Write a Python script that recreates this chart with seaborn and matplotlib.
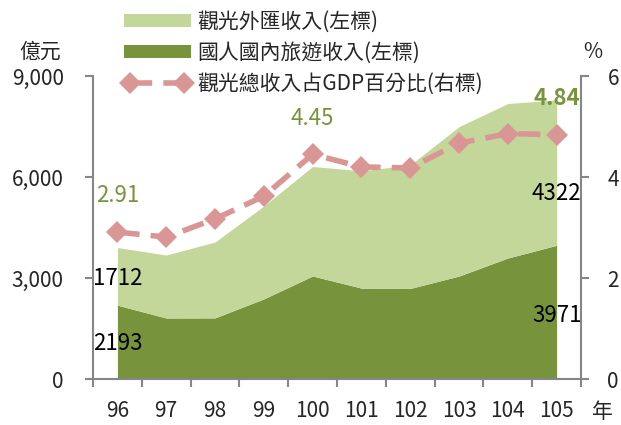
import numpy as np
import pandas as pd
import matplotlib
matplotlib.use('Agg')
import matplotlib.pyplot as plt
from matplotlib.patches import Patch
from matplotlib.lines import Line2D
from matplotlib.ticker import FuncFormatter
import seaborn as sns

# Data (億元 / %)
years = ['96', '97', '98', '99', '100', '101', '102', '103', '104', '105']
domestic = [2193, 1812, 1816, 2380, 3060, 2700, 2690, 3059, 3594, 3971]
foreign = [1712, 1871, 2253, 2758, 3254, 3485, 3668, 4438, 4589, 4322]
gdp_pct = [2.91, 2.81, 3.17, 3.62, 4.45, 4.20, 4.18, 4.67, 4.86, 4.84]

light = '#C4D79B'
dark = '#77933C'
pink = '#D99694'
grey = '#868686'

sns.set_theme(style='white')
plt.rcParams['font.family'] = ['Noto Sans CJK TC', 'DejaVu Sans']
fs = 15
lfs = 16

fig = plt.figure(figsize=(6.21, 4.25), dpi=100)
ax = fig.add_axes([0.1498, 0.1082, 0.7858, 0.7129])
x = np.arange(len(years))

ax.stackplot(x, domestic, foreign, colors=[dark, light], linewidth=0)
ax.set_xlim(-0.5, len(years) - 0.5)
ax.set_ylim(0, 9000)
ax.set_yticks([0, 3000, 6000, 9000])
ax.yaxis.set_major_formatter(FuncFormatter(lambda v, p: f'{int(v):,}'))

# category axis: ticks between categories, labels in the middle
ax.set_xticks(np.arange(-0.5, len(years)), labels=[''] * (len(years) + 1))
ax.set_xticks(x, labels=years, minor=True)
ax.tick_params(axis='x', which='major', direction='out', length=6, width=1.5,
               color=grey, bottom=True)
ax.tick_params(axis='x', which='minor', length=0, pad=15, labelsize=fs)
ax.tick_params(axis='y', direction='out', length=6, width=1.5, color=grey,
               left=True, pad=15, labelsize=fs)

ax2 = ax.twinx()
df = pd.DataFrame({'x': x, 'pct': gdp_pct})
sns.lineplot(data=df, x='x', y='pct', ax=ax2, color=pink, linewidth=4,
             marker='D', markersize=11, markeredgewidth=0)
ax2.lines[0].set_linestyle((0, (4, 2)))
ax2.set_xlim(-0.5, len(years) - 0.5)
ax2.set_ylim(0, 6)
ax2.set_yticks([0, 2, 4, 6])
ax2.set_xlabel('')
ax2.set_ylabel('')
ax.set_xlabel('')
ax.set_ylabel('')
ax2.tick_params(axis='y', direction='out', length=6, width=1.5, color=grey,
                right=True, pad=13, labelsize=fs)

for a in (ax, ax2):
    for s in a.spines.values():
        s.set_visible(False)
ax.spines['left'].set_visible(True)
ax.spines['bottom'].set_visible(True)
ax2.spines['right'].set_visible(True)
for s in (ax.spines['left'], ax.spines['bottom'], ax2.spines['right']):
    s.set_color(grey)
    s.set_linewidth(1.5)

# percentage labels
for i, bold in [(0, False), (4, False), (9, True)]:
    ax2.annotate(f'{gdp_pct[i]:.2f}', (x[i], gdp_pct[i]), xytext=(0, 26),
                 textcoords='offset points', ha='center', va='center',
                 fontsize=lfs, color=dark, fontweight='bold' if bold else 'normal')

# value labels for first and last years
ax.text(x[0], 2990, f'{foreign[0]}', ha='center', va='center', fontsize=lfs, color='black')
ax.text(x[0], 1069, f'{domestic[0]}', ha='center', va='center', fontsize=lfs, color='black')
ax.text(x[-1], 5525, f'{foreign[-1]}', ha='center', va='center', fontsize=lfs, color='black')
ax.text(x[-1], 1900, f'{domestic[-1]}', ha='center', va='center', fontsize=lfs, color='black')

fig.text(40 / 621, 1 - 52 / 425, '億元', ha='center', va='center', fontsize=fs)
fig.text(593 / 621, 1 - 52 / 425, '%', ha='center', va='center', fontsize=fs)
fig.text(602 / 621, 1 - 412 / 425, '年', ha='center', va='center', fontsize=fs)

handles = [
    Patch(facecolor=light, edgecolor='none'),
    Patch(facecolor=dark, edgecolor='none'),
    Line2D([0], [0], color=pink, linewidth=4, linestyle=(0, (4, 2)),
           marker='D', markersize=11, markeredgewidth=0),
]
labels = ['觀光外匯收入(左標)', '國人國內旅遊收入(左標)', '觀光總收入占GDP百分比(右標)']
fig.legend(handles, labels, loc='upper left', bbox_to_anchor=(124 / 621, 1 - 11 / 425),
           frameon=False, fontsize=fs, handlelength=3.2, handleheight=0.6,
           handletextpad=0.3, labelspacing=0.43, borderpad=0, borderaxespad=0,
           numpoints=2)

fig.savefig('out.png', dpi=100)
